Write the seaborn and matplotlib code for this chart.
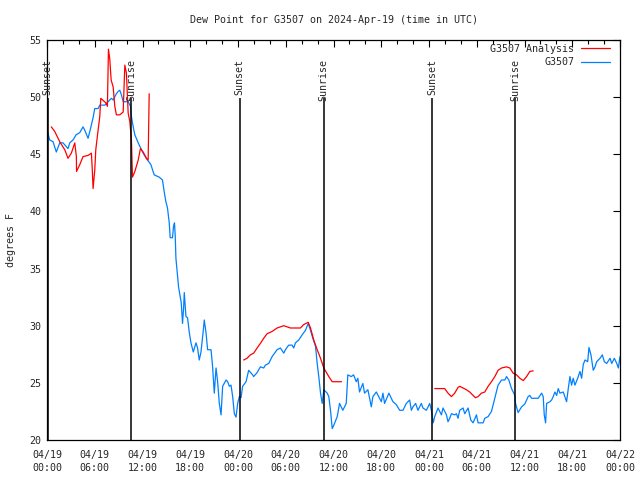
import numpy as np
import pandas as pd
import matplotlib
matplotlib.use('Agg')
import matplotlib.pyplot as plt
from matplotlib.ticker import MultipleLocator
from matplotlib.lines import Line2D
import seaborn as sns

# Horas desde 04/19 00:00 UTC y punto de rocio (F)
obs_horas = [0.0, 0.34, 0.76, 1.17, 1.6, 2.01, 2.64, 2.86, 3.27, 3.65, 4.12, 4.53, 4.75, 5.16, 5.38,
             5.79, 6.0, 6.42, 6.63, 7.26, 7.68, 8.09, 8.31, 8.72, 8.94, 9.15, 9.35, 9.57, 10.2, 10.49,
             10.61, 10.83, 11.04, 11.46, 12.08, 12.52, 13.05, 13.47, 14.1, 14.51, 14.73, 14.94, 15.14,
             15.36, 15.48, 15.77, 15.9, 16.02, 16.11, 16.2, 16.4, 16.53, 16.74, 16.87, 17.03, 17.16,
             17.25, 17.46, 17.66, 17.88, 18.09, 18.38, 18.72, 18.92, 19.13, 19.35, 19.64, 19.76, 19.98,
             20.18, 20.61, 20.81, 21.02, 21.24, 21.44, 21.65, 21.87, 22.07, 22.5, 22.7, 22.91, 23.12,
             23.33, 23.54, 23.75, 23.96, 24.17, 24.38, 24.58, 25.01, 25.34, 25.84, 25.97, 26.4, 26.81,
             27.23, 27.44, 27.86, 28.29, 28.91, 29.33, 29.75, 29.96, 30.37, 30.8, 31.0, 31.22, 31.63,
             32.06, 32.48, 32.82, 33.11, 33.4, 33.74, 33.95, 34.15, 34.37, 34.58, 34.78, 35.21, 35.41,
             35.62, 35.84, 36.04, 36.47, 36.76, 37.17, 37.6, 37.8, 38.23, 38.52, 38.86, 39.06, 39.27,
             39.69, 39.9, 40.32, 40.75, 40.95, 41.38, 41.79, 42.01, 42.21, 42.42, 42.96, 43.47, 43.89,
             44.31, 44.73, 45.15, 45.57, 45.78, 45.98, 46.32, 46.61, 47.04, 47.24, 47.67, 48.09, 48.3,
             48.53, 48.72, 49.13, 49.56, 49.76, 50.19, 50.39, 50.6, 50.82, 51.23, 51.45, 51.65, 51.86,
             52.28, 52.49, 52.91, 53.25, 53.54, 53.96, 54.17, 54.8, 55.01, 55.43, 55.85, 56.27, 56.68,
             57.11, 57.53, 57.74, 58.03, 58.37, 58.79, 58.87, 59.2, 59.63, 60.04, 60.46, 60.67, 60.89,
             61.3, 61.72, 62.15, 62.35, 62.48, 62.65, 62.78, 63.19, 63.41, 63.61, 63.82, 64.04, 64.24,
             64.45, 64.87, 65.29, 65.5, 65.71, 65.92, 66.12, 66.34, 66.68, 66.97, 67.18, 67.38, 67.6,
             67.94, 68.1, 68.35, 68.64, 68.86, 69.07, 69.49, 69.78, 70.03, 70.33, 70.75, 70.96, 71.29,
             71.59, 71.79, 72.0]
obs_dew = [47.1, 46.25, 46.1, 45.2, 46.0, 46.0, 45.5, 46.0, 46.25, 46.7, 46.9, 47.4, 47.1, 46.4, 47.0,
           48.2, 49.0, 49.0, 49.3, 49.3, 49.6, 49.9, 49.75, 50.3, 50.5, 50.6, 50.2, 49.6, 49.6, 49.2,
           48.3, 47.4, 46.7, 46.0, 45.1, 44.6, 44.1, 43.2, 43.0, 42.75, 41.7, 40.85, 40.3,
           39.0, 37.7, 37.7, 38.7, 39.0, 37.9, 35.9, 34.4, 33.4, 32.5, 32.0, 30.2, 31.5,
           32.9, 30.8, 30.7, 29.4, 28.5, 27.7, 28.5, 28.05, 27.0, 27.7, 29.6, 30.5, 29.4,
           27.9, 27.9, 26.4, 24.1, 26.3, 25.1, 23.2, 22.2, 24.7, 25.25, 25.1, 24.7, 24.8,
           23.8, 22.3, 22.0, 23.2, 23.8, 23.7, 24.7, 25.1, 26.1, 25.7, 25.55, 25.9, 26.4,
           26.3, 26.55, 26.7, 27.3, 27.9, 28.05, 27.6, 27.9, 28.3, 28.3, 28.05, 28.5, 28.75,
           29.2, 29.6, 30.2, 29.6, 28.9, 28.2, 26.7, 25.55, 24.1, 23.2, 24.4, 24.1, 23.8,
           22.6, 21.0, 21.3, 22.05, 23.2, 22.6, 23.2, 25.7, 25.55, 25.7, 25.1, 25.4, 24.2,
           24.95, 24.1, 24.4, 22.9, 23.8, 24.2, 23.65, 23.35, 24.1, 23.2, 24.1, 23.35, 23.1,
           22.6, 22.6, 23.2, 23.5, 22.6, 22.9, 23.2, 22.6, 23.2, 22.8, 22.6, 23.2, 22.6,
           21.5, 22.05, 22.8, 22.2, 22.8, 22.2, 21.6, 21.9, 22.3, 22.2, 22.3, 21.9, 22.6,
           22.8, 22.3, 22.8, 21.75, 21.5, 22.2, 21.5, 21.5, 21.9, 22.05, 22.5, 23.65, 24.8,
           25.25, 25.25, 25.55, 25.25, 24.5, 23.9, 23.2, 22.4, 22.9, 23.15, 23.8, 23.9, 23.65,
           23.65, 23.65, 24.1, 23.8, 22.2, 21.5, 23.2, 23.35, 23.5, 23.8, 24.2, 23.9, 24.5,
           24.1, 24.2, 23.35, 24.5, 25.55, 24.8, 25.4, 24.8, 25.4, 26.0, 25.4, 26.6, 27.0,
           26.85, 28.1, 27.45, 26.1, 26.4, 26.85, 27.15, 27.45, 26.85, 26.7, 27.15, 26.7, 27.15,
           26.7, 26.3, 27.3]

# Analisis (tres tramos con huecos entre ellos)
ana1_horas = [0.54, 0.97, 1.6, 2.23, 2.64, 3.06, 3.49, 3.69, 3.71, 4.12, 4.53, 5.16, 5.58, 5.7, 5.79,
              6.0, 6.13, 6.42, 6.63, 6.76, 7.39, 7.59, 7.72, 7.89, 8.06, 8.31, 8.52, 8.72, 9.15, 9.57,
              9.78, 9.98, 10.2, 10.41, 10.61, 10.74, 11.04, 11.46, 11.74, 12.08, 12.5, 12.71, 12.84]
ana1_dew = [47.4, 47.0, 46.1, 45.4, 44.65, 45.1, 46.0, 44.8, 43.5, 44.1, 44.8, 44.9, 45.1, 43.5, 42.0,
            43.6, 45.4, 47.1, 48.3, 49.9, 49.5, 49.2, 54.2, 53.3, 51.5, 50.9, 49.2, 48.45, 48.45, 48.7,
            52.8, 52.1, 48.6, 47.85, 46.25, 43.0, 43.5, 44.5, 45.5, 45.2, 44.65, 44.5, 50.3]
ana2_horas = [24.71, 25.14, 25.55, 25.97, 26.4, 26.81, 27.23, 27.66, 28.29, 28.91, 29.75, 30.17, 30.59,
              31.85, 32.26, 32.82, 33.11, 33.52, 33.95, 34.37, 34.78, 35.41, 35.84, 37.01]
ana2_dew = [27.0, 27.15, 27.45, 27.6, 28.05, 28.45, 28.9, 29.3, 29.5, 29.8, 30.0, 29.9, 29.8,
            29.8, 30.1, 30.3, 29.8, 28.75, 27.9, 27.15, 26.3, 25.55, 25.1, 25.1]
ana3_horas = [48.72, 49.97, 50.39, 50.82, 51.23, 51.65, 51.86, 52.28, 52.7, 53.12, 53.54, 53.84, 54.17,
              54.59, 55.01, 55.43, 55.85, 56.27, 56.68, 57.11, 57.74, 58.16, 58.57, 59.0, 59.42, 59.84,
              60.26, 60.67, 61.09]
ana3_dew = [24.5, 24.5, 24.1, 23.8, 24.1, 24.6, 24.7, 24.55, 24.4, 24.2, 23.9, 23.7, 23.8,
            24.1, 24.2, 24.7, 25.1, 25.55, 26.1, 26.3, 26.4, 26.3, 25.85, 25.7, 25.4, 25.2,
            25.55, 26.0, 26.05]

# Salida y puesta del sol
sol_horas = [0.1, 10.61, 24.2, 34.78, 48.38, 58.82]
sol_textos = ['Sunset', 'Sunrise', 'Sunset', 'Sunrise', 'Sunset', 'Sunrise']

xtick_horas = list(range(0, 73, 6))
xtick_textos = ['04/19\n00:00', '04/19\n06:00', '04/19\n12:00', '04/19\n18:00',
                '04/20\n00:00', '04/20\n06:00', '04/20\n12:00', '04/20\n18:00',
                '04/21\n00:00', '04/21\n06:00', '04/21\n12:00', '04/21\n18:00',
                '04/22\n00:00']

color_ana = '#ff0000'
color_obs = '#0080ff'

sns.set_theme(style='white')
plt.rcParams['font.family'] = ['DejaVu Sans Mono']
fs = 7.2

df_obs = pd.DataFrame({'hora': obs_horas, 'dew': obs_dew})
df_ana = pd.concat([
    pd.DataFrame({'hora': ana1_horas, 'dew': ana1_dew, 'tramo': 1}),
    pd.DataFrame({'hora': ana2_horas, 'dew': ana2_dew, 'tramo': 2}),
    pd.DataFrame({'hora': ana3_horas, 'dew': ana3_dew, 'tramo': 3}),
])

fig = plt.figure(figsize=(6.4, 4.8), dpi=100)
ax = fig.add_axes([47 / 640, 40 / 480, 573 / 640, 400 / 480])

sns.lineplot(data=df_obs, x='hora', y='dew', color=color_obs, linewidth=0.9,
             estimator=None, sort=False, ax=ax, legend=False)
sns.lineplot(data=df_ana, x='hora', y='dew', units='tramo', color=color_ana, linewidth=0.9,
             estimator=None, sort=False, ax=ax, legend=False)

# lineas verticales de sol
for h, t in zip(sol_horas, sol_textos):
    ax.vlines(h, 20, 49.9, color='black', linewidth=1.1)
    ax.text(h, 53.3, t, rotation=90, ha='center', va='top', fontsize=fs)

ax.set_xlim(0, 72)
ax.set_ylim(20, 55)
ax.set_xticks(xtick_horas)
ax.set_xticklabels(xtick_textos, fontsize=fs)
for t in ax.get_xticklabels():
    t.set_linespacing(1.4)
ax.xaxis.set_minor_locator(MultipleLocator(2))
ax.yaxis.set_major_locator(MultipleLocator(5))
ax.tick_params(axis='y', labelsize=fs, pad=4)
ax.tick_params(axis='x', pad=7)
ax.tick_params(which='both', direction='in', top=True, right=True, color='black')
ax.tick_params(which='major', length=5, width=0.8)
ax.tick_params(which='minor', length=3, width=0.8)
for s in ax.spines.values():
    s.set_color('black')
    s.set_linewidth(0.9)

ax.set_xlabel('')
ax.set_ylabel('degrees F', fontsize=fs)
ax.yaxis.set_label_coords(-0.054, 0.5)
ax.set_title('Dew Point for G3507 on 2024-Apr-19 (time in UTC)', fontsize=fs, pad=12)

handles = [Line2D([], [], color=color_ana, linewidth=0.9),
           Line2D([], [], color=color_obs, linewidth=0.9)]
ax.legend(handles, ['G3507 Analysis', 'G3507'], loc='upper right', frameon=False,
          markerfirst=False, fontsize=fs, handlelength=2.9, handletextpad=0.7,
          labelspacing=0.35, borderaxespad=0.0, bbox_to_anchor=(0.99, 1.0))

fig.savefig('out.png', dpi=100)
